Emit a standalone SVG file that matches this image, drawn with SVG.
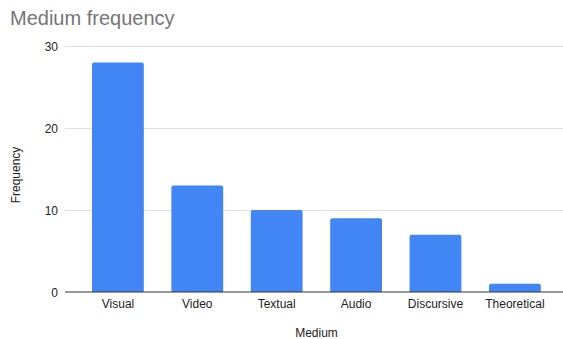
<svg xmlns="http://www.w3.org/2000/svg" width="563" height="339" viewBox="0 0 563 339">
<style>
text{font-family:"Liberation Sans",Arial,sans-serif;fill:#222}
.title{font-size:20px;fill:#757575}
.tick{font-size:12px}
.axis{font-size:12px}
.grid{stroke:#e0e0e0;stroke-width:1}
.bar{fill:#4285f4}
</style>
<rect width="563" height="339" fill="#fff"/>
<text class="title" x="10" y="25">Medium frequency</text>
<g id="gridlines">
<line class="grid" x1="65" y1="46.5" x2="563" y2="46.5"/>
<line class="grid" x1="65" y1="128.5" x2="563" y2="128.5"/>
<line class="grid" x1="65" y1="210.5" x2="563" y2="210.5"/>
</g>
<g id="yticks" class="tick">
<text x="58" y="51" text-anchor="end">30</text>
<text x="58" y="133" text-anchor="end">20</text>
<text x="58" y="215" text-anchor="end">10</text>
<text x="58" y="297" text-anchor="end">0</text>
</g>
<g id="bars">
<g id="bar-visual"><path class="bar" d="M92,292V64.4a2,2 0 0 1 2,-2H141.8a2,2 0 0 1 2,2V292Z"/><text class="tick" x="118" y="307.5" text-anchor="middle">Visual</text></g>
<g id="bar-video"><path class="bar" d="M171.4,292V187.5a2,2 0 0 1 2,-2H221.2a2,2 0 0 1 2,2V292Z"/><text class="tick" x="197.3" y="307.5" text-anchor="middle">Video</text></g>
<g id="bar-textual"><path class="bar" d="M250.8,292V212.1a2,2 0 0 1 2,-2H300.6a2,2 0 0 1 2,2V292Z"/><text class="tick" x="276.7" y="307.5" text-anchor="middle">Textual</text></g>
<g id="bar-audio"><path class="bar" d="M330.2,292V220.3a2,2 0 0 1 2,-2H380a2,2 0 0 1 2,2V292Z"/><text class="tick" x="356.1" y="307.5" text-anchor="middle">Audio</text></g>
<g id="bar-discursive"><path class="bar" d="M409.6,292V236.7a2,2 0 0 1 2,-2H459.4a2,2 0 0 1 2,2V292Z"/><text class="tick" x="435.5" y="307.5" text-anchor="middle">Discursive</text></g>
<g id="bar-theoretical"><path class="bar" d="M489,292V285.8a2,2 0 0 1 2,-2H538.8a2,2 0 0 1 2,2V292Z"/><text class="tick" x="514.9" y="307.5" text-anchor="middle">Theoretical</text></g>
</g>
<line x1="65" y1="292" x2="563" y2="292" stroke="#333" stroke-width="1"/>
<text class="axis" x="316.5" y="336.5" text-anchor="middle">Medium</text>
<text class="axis" transform="translate(20,175) rotate(-90)" text-anchor="middle">Frequency</text>
</svg>
